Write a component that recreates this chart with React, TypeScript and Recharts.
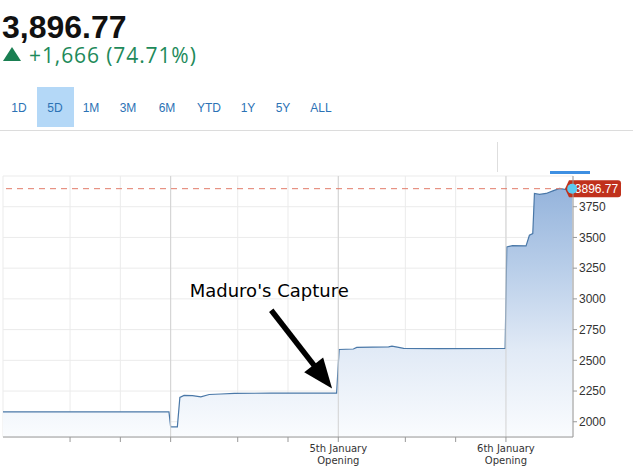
import {
  ComposedChart,
  Area,
  XAxis,
  YAxis,
  CartesianGrid,
  ReferenceLine,
  ReferenceDot,
} from "recharts";

// time axis: one trading day = 100 units
const times = [
  0, 99, 100, 104, 105.5, 108, 113, 118, 123, 130, 138, 160, 199, 200.5, 209,
  211, 230, 232, 236, 239, 260, 299.5, 300.5, 304, 312, 314, 316, 317, 320,
  324, 328, 332, 335, 339.5,
];
const prices = [
  2081, 2081, 1959, 1959, 2198, 2215, 2212, 2203, 2222, 2226, 2231, 2233, 2233,
  2588, 2592, 2605, 2610, 2616, 2606, 2597, 2596, 2597, 3422, 3434, 3431, 3518,
  3532, 3858, 3850, 3858, 3879, 3899, 3891, 3896.77,
];

const xTicks = [40, 70, 100, 140, 170, 200, 240, 270, 300];
const xTickLabels = ["", "", "", "", "", "5th January|Opening", "", "", "6th January|Opening"];
const openings = [100, 200, 300];
const yTicks = [2000, 2250, 2500, 2750, 3000, 3250, 3500, 3750];

const lastPrice = 3896.77;
const changeText = "+1,666 (74.71%)";
const ranges = ["1D", "5D", "1M", "3M", "6M", "YTD", "1Y", "5Y", "ALL"];
const rangeCenters = [19, 55, 91, 128, 167, 209, 248, 283, 321];

// annotation arrow (tail -> tip), in data units
const arrowFrom = { x: 160, y: 2907 };
const arrowTo = { x: 196.3, y: 2271 };

const data = times.map((t, i) => ({ t, v: prices[i] }));

function XTick(props: any) {
  const { x, y, payload } = props;
  const idx = xTicks.indexOf(payload.value);
  const label = idx >= 0 ? xTickLabels[idx] : "";
  if (!label) return <g />;
  const [l1, l2] = label.split("|");
  return (
    <text
      x={x}
      y={y}
      textAnchor="middle"
      fill="#333"
      fontSize={10}
      fontFamily="DejaVu Sans"
    >
      <tspan x={x} dy="0.65em">{l1}</tspan>
      <tspan x={x} dy="1.25em">{l2}</tspan>
    </text>
  );
}

function PriceBadge(props: any) {
  const vb = props.viewBox;
  const right = vb.x + vb.width;
  const cy = vb.y;
  const x0 = right - 4;
  const x1 = right + 48;
  return (
    <g>
      <path
        d={`M${right - 8},${cy} L${x0},${cy - 8.5} L${x1 - 3},${cy - 8.5} Q${x1},${cy - 8.5} ${x1},${cy - 5.5} L${x1},${cy + 5.5} Q${x1},${cy + 8.5} ${x1 - 3},${cy + 8.5} L${x0},${cy + 8.5} Z`}
        fill="#c0311c"
      />
      <text
        x={(x0 + x1) / 2 + 1.5}
        y={cy}
        dy="0.36em"
        textAnchor="middle"
        fill="#fff"
        fontSize={12}
        fontFamily="Liberation Sans, Arial"
      >
        {lastPrice.toFixed(2)}
      </text>
    </g>
  );
}

function Arrow(props: any) {
  const { x1, y1, x2, y2 } = props;
  const dx = x2 - x1;
  const dy = y2 - y1;
  const len = Math.sqrt(dx * dx + dy * dy);
  const ux = dx / len;
  const uy = dy / len;
  const headLen = 30;
  const headW = 12;
  const bx = x2 - ux * headLen;
  const by = y2 - uy * headLen;
  return (
    <g>
      <text
        x={x1 - 2}
        y={y1 - 13}
        textAnchor="middle"
        fill="#000"
        fontSize={18}
        fontFamily="DejaVu Sans"
      >
        Maduro's Capture
      </text>
      <line x1={x1} y1={y1} x2={bx + ux * 2} y2={by + uy * 2} stroke="#000" strokeWidth={5.5} />
      <polygon
        points={`${x2},${y2} ${bx - uy * headW},${by + ux * headW} ${bx + uy * headW},${by - ux * headW}`}
        fill="#000"
      />
    </g>
  );
}

export default function App() {
  return (
    <div
      style={{
        position: "absolute",
        top: 0,
        left: 0,
        width: 633,
        height: 467,
        background: "#fff",
        overflow: "hidden",
        fontFamily: "Liberation Sans, Arial, sans-serif",
      }}
    >
      <ComposedChart
        width={633}
        height={467}
        data={data}
        margin={{ top: 176, right: 0, bottom: 0, left: 3 }}
        style={{ position: "absolute", top: 0, left: 0 }}
      >
        <defs>
          <linearGradient id="areaFill" x1="0" y1="0" x2="0" y2="1">
            <stop offset="0%" stopColor="#95b4dc" />
            <stop offset="30%" stopColor="#b6cce8" />
            <stop offset="65%" stopColor="#e1eaf6" />
            <stop offset="100%" stopColor="#fafcfe" />
          </linearGradient>
        </defs>
        <CartesianGrid stroke="#ebebeb" />
        <XAxis
          dataKey="t"
          type="number"
          domain={[0, 340]}
          ticks={xTicks}
          interval={0}
          height={30}
          stroke="#999"
          tickSize={5}
          tickMargin={3}
          tick={<XTick />}
          allowDataOverflow
        />
        <YAxis
          orientation="right"
          type="number"
          domain={[1876, 4000]}
          ticks={yTicks}
          width={60}
          stroke="#999"
          tickSize={4}
          tickMargin={2}
          tick={{ fill: "#333", fontSize: 12, fontFamily: "Liberation Sans, Arial" }}
          allowDataOverflow
        />
        {openings.map((o) => (
          <ReferenceLine key={o} x={o} stroke="#d2d2d2" />
        ))}
        <Area
          type="linear"
          dataKey="v"
          stroke="#4a78a8"
          strokeWidth={1.2}
          fill="url(#areaFill)"
          fillOpacity={1}
          dot={false}
          activeDot={false}
          isAnimationActive={false}
        />
        <ReferenceLine
          y={lastPrice}
          stroke="#e27c6a"
          strokeDasharray="6 5"
          label={<PriceBadge />}
        />
        <ReferenceDot
          x={times[times.length - 1]}
          y={lastPrice}
          r={5}
          fill="#5ccaf2"
          stroke="none"
        />
        <ReferenceLine segment={[arrowFrom, arrowTo]} shape={<Arrow />} />
      </ComposedChart>

      <div
        style={{
          position: "absolute",
          left: 2,
          top: 11,
          fontSize: 32,
          lineHeight: "32px",
          fontWeight: 700,
          color: "#111",
        }}
      >
        3,896.77
      </div>
      <div
        style={{
          position: "absolute",
          left: 3,
          top: 47,
          width: 0,
          height: 0,
          borderLeft: "9px solid transparent",
          borderRight: "9px solid transparent",
          borderBottom: "14px solid #1a7f52",
        }}
      />
      <div
        style={{
          position: "absolute",
          left: 29,
          top: 43,
          fontSize: 21,
          lineHeight: "24px",
          letterSpacing: 0.9,
          fontFamily: "Open Sans",
          color: "#1e8a5a",
        }}
      >
        {changeText}
      </div>
      <div
        style={{
          position: "absolute",
          left: 37,
          top: 87,
          width: 37,
          height: 40,
          background: "#b4d8f7",
        }}
      />
      {ranges.map((r, i) => (
        <div
          key={r}
          style={{
            position: "absolute",
            left: rangeCenters[i] - 25,
            width: 50,
            top: 100,
            lineHeight: "16px",
            fontSize: 12,
            textAlign: "center",
            color: "#2b72b5",
          }}
        >
          {r}
        </div>
      ))}
      <div
        style={{
          position: "absolute",
          left: 0,
          top: 130,
          width: 633,
          height: 1,
          background: "#dcdcdc",
        }}
      />
      <div
        style={{
          position: "absolute",
          left: 497,
          top: 142,
          width: 1,
          height: 30,
          background: "#dedede",
        }}
      />
      <div
        style={{
          position: "absolute",
          left: 550,
          top: 171,
          width: 40,
          height: 3,
          background: "#3d8fe2",
        }}
      />
    </div>
  );
}
